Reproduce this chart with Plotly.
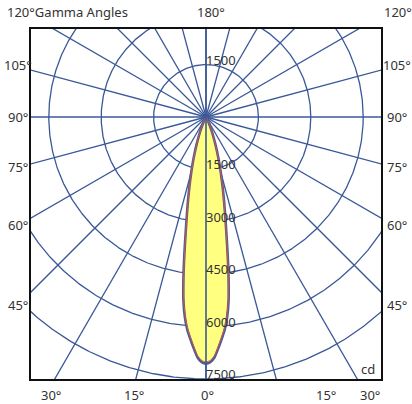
import numpy as np
import plotly.graph_objects as go

# ---- data ----
gamma_deg = [0, 1, 2, 3, 4, 5, 6, 7, 8, 9, 10, 11, 12, 13, 14, 15, 16, 17, 18, 19, 20,
             22, 24, 26, 28, 30, 35, 40, 45, 60, 90, 120, 150, 180]
i_c90_270 = [7060, 7020, 6890, 6640, 6380, 6120, 5770, 5300, 4640, 3950, 3350, 2880, 2500,
             2170, 1880, 1620, 1390, 1180, 990, 820, 670, 430, 260, 150, 85, 50, 15, 6, 2,
             0, 0, 0, 0, 0]
i_c0_180 = [7010, 6970, 6840, 6590, 6330, 6070, 5720, 5250, 4590, 3900, 3310, 2840, 2460,
            2130, 1850, 1590, 1360, 1150, 960, 800, 650, 415, 250, 145, 80, 45, 13, 5, 1,
            0, 0, 0, 0, 0]
ring_values = [1500, 3000, 4500, 6000, 7500]
ring_labels = ["1500", "3000", "4500", "6000", "7500"]
spoke_angles = list(range(0, 360, 15))
side_labels = ["105°", "90°", "75°", "60°", "45°"]
side_label_px = [65, 117, 167, 225, 305]
bottom_labels = ["30°", "15°", "0°", "15°", "30°"]
bottom_label_px = [51, 134, 208, 326, 370]

GRID = "#3a5898"
TXT = "#333333"
FONT = "Noto Sans"

# geometry of the frame (pixels)
W, H = 412, 404
L, R, T, B = 31, 31, 29, 25
PW = W - L - R
PH = H - T - B
RMAX = 7500
k = RMAX / 262.0          # cd per pixel
cx_px = 175               # centre offset from left edge of plot
cy_px = 88                # centre offset from top of plot
x_range = [-cx_px * k, (PW - cx_px) * k]
y_range = [-(PH - cy_px) * k, cy_px * k]

fig = go.Figure()

# rings
t = np.linspace(0, 2 * np.pi, 721)
rx, ry = [], []
for r in ring_values:
    rx += list(r * np.cos(t)) + [None]
    ry += list(r * np.sin(t)) + [None]
fig.add_trace(go.Scatter(x=rx, y=ry, mode="lines", line=dict(color=GRID, width=1.3),
                         hoverinfo="skip", showlegend=False))

# spokes
sx, sy = [], []
for a in spoke_angles:
    ar = np.radians(a)
    sx += [0, 20000 * np.sin(ar), None]
    sy += [0, -20000 * np.cos(ar), None]
fig.add_trace(go.Scatter(x=sx, y=sy, mode="lines", line=dict(color=GRID, width=1.3),
                         hoverinfo="skip", showlegend=False))


def lobe(vals):
    g = np.radians(gamma_deg)
    v = np.array(vals, dtype=float)
    xr = v * np.sin(g)
    yr = -v * np.cos(g)
    xs = list(xr) + list(-xr[::-1])
    ys = list(yr) + list(yr[::-1])
    return xs, ys


bx, by = lobe(i_c90_270)
fig.add_trace(go.Scatter(x=bx, y=by, mode="lines", fill="toself", fillcolor="#ffff80",
                         line=dict(color="#4a5e96", width=2.6, shape="spline", smoothing=0.6),
                         hoverinfo="skip", showlegend=False))
rx2, ry2 = lobe(i_c0_180)
fig.add_trace(go.Scatter(x=rx2, y=ry2, mode="lines",
                         line=dict(color="#e8553c", width=0.9, shape="spline", smoothing=0.6),
                         hoverinfo="skip", showlegend=False))

# vertical axis line drawn over the lobe
fig.add_trace(go.Scatter(x=[0, 0], y=[y_range[0], y_range[1]], mode="lines",
                         line=dict(color=GRID, width=1.6), hoverinfo="skip", showlegend=False))

ann = []
fnt = dict(family=FONT, size=13, color=TXT)
# ring labels (below and above centre)
for r, lab in zip(ring_values, ring_labels):
    ann.append(dict(x=0, y=-r, xref="x", yref="y", text=lab, showarrow=False,
                    xanchor="left", yanchor="middle", yshift=5, xshift=-2, font=fnt))
ann.append(dict(x=0, y=ring_values[0], xref="x", yref="y", text=ring_labels[0], showarrow=False,
                xanchor="left", yanchor="middle", yshift=5, xshift=-2, font=fnt))

# side labels
for lab, py in zip(side_labels, side_label_px):
    yd = (cy_px + T - py) * k
    ann.append(dict(x=(17.5 - L) / PW, y=yd, xref="paper", yref="y", text=lab, showarrow=False,
                    xanchor="center", yanchor="middle", font=fnt))
    ann.append(dict(x=(397 - L) / PW, y=yd, xref="paper", yref="y", text=lab, showarrow=False,
                    xanchor="center", yanchor="middle", font=fnt))

# bottom labels
for lab, px in zip(bottom_labels, bottom_label_px):
    ann.append(dict(x=(px - L) / PW, y=-(395 - (H - B)) / PH, xref="paper", yref="paper", text=lab,
                    showarrow=False, xanchor="center", yanchor="middle", font=fnt))

# top labels
ytop = 1 + (T - 12) / PH
ann.append(dict(x=(5 - L) / PW, y=ytop, xref="paper", yref="paper", text="120°Gamma Angles",
                showarrow=False, xanchor="left", yanchor="middle", font=fnt))
ann.append(dict(x=(211 - L) / PW, y=ytop, xref="paper", yref="paper", text="180°",
                showarrow=False, xanchor="center", yanchor="middle", font=fnt))
ann.append(dict(x=(398 - L) / PW, y=ytop, xref="paper", yref="paper", text="120°",
                showarrow=False, xanchor="center", yanchor="middle", font=fnt))
# unit
ann.append(dict(x=(377 - L) / PW, y=(H - B - 369) / PH, xref="paper", yref="paper", text="cd",
                showarrow=False, xanchor="right", yanchor="middle", font=fnt))

ax = dict(showgrid=False, zeroline=False, showticklabels=False, ticks="",
          showline=True, mirror=True, linecolor="#111111", linewidth=1.5, fixedrange=True)
fig.update_layout(
    width=W, height=H,
    margin=dict(l=L, r=R, t=T, b=B),
    paper_bgcolor="white", plot_bgcolor="white",
    xaxis={**ax, "range": x_range},
    yaxis={**ax, "range": y_range},
    annotations=ann,
    showlegend=False,
)
fig.write_html("out.html", config={"displayModeBar": False},
               post_script="document.body.style.margin='0';")
